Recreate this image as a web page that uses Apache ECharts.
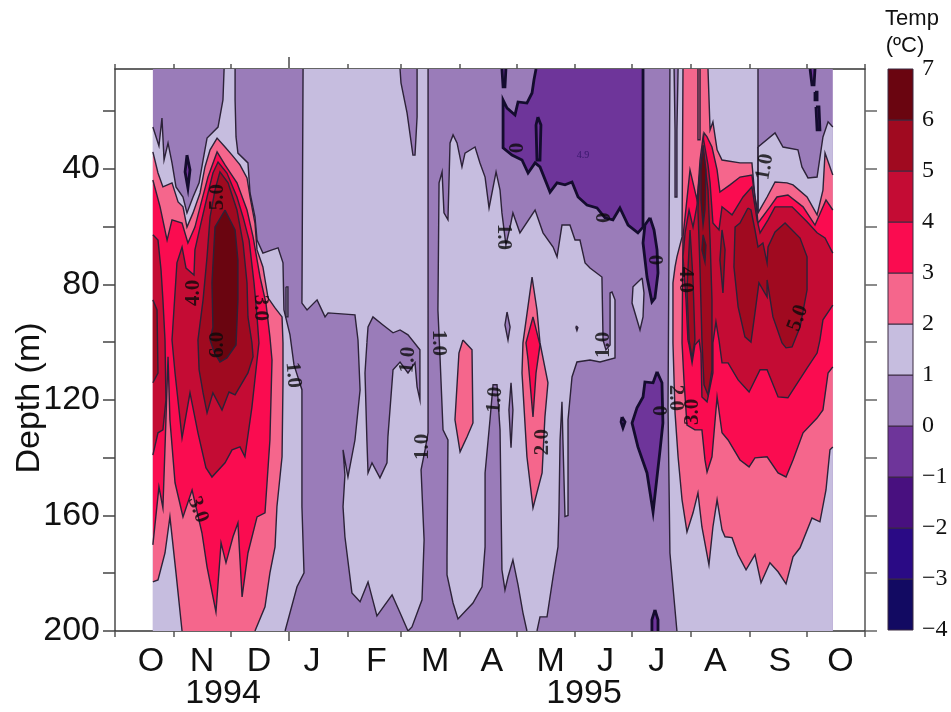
<!DOCTYPE html>
<html>
<head>
<meta charset="UTF-8">
<title>Temp</title>
<script src="https://cdn.jsdelivr.net/npm/echarts@6/dist/echarts.min.js"></script>
<style>html,body{margin:0;padding:0;background:#fff}</style>
</head>
<body>
<div id="graph" style="width:951px;height:712px;"></div>
<script>
// x = days since 1 Oct 1994, y = depth in m. Contours.
var monthStarts = [0,31,61,92,123,151,182,212,243,273,304,335,365,396];
var monthLabelDays = [19,46,76,104,138,169,199,230,259,286,317,351,383];
var monthNames = ['O','N','D','J','F','M','A','M','J','J','A','S','O'];
var depthTicks = [20,40,60,80,100,120,140,160,180,200];
var depthLabels = [40,80,120,160,200];
var scaleLevels = [-4,-3,-2,-1,0,1,2,3,4,5,6];
var firstDay = 20, lastDay = 379, topDepth = 5.5, bottomDepth = 200;

var baseField = [[20,5.5],[379,5.5],[379,200],[20,200]];

var band1Left = [[20,25.6],[23.2,32.1],[24.8,22.5],[25.9,37],[28,31.1],[30.1,38],[32.2,46.3],[35.9,49.8],[38,55.3],[41.2,49.8],[44.4,44.9],[46.5,37],[48.6,29.4],[54.4,25.6],[57,16.2],[57.6,5.5],[63.4,5.5],[63.4,16.2],[63.9,29],[64.9,34.6],[70.2,38],[71.3,48.4],[73.9,56.7],[75,64.7],[78.1,69.2],[82.9,68.1],[86.1,67.4],[88.7,72.6],[89.2,88.9],[92.4,97.5],[94.5,107.9],[98.7,116.5],[98.7,157],[99.8,179.9],[96.1,184.7],[89.8,200],[20,200]];
var band1Sliver = [[90.3,80.9],[91.3,80.9],[91.3,91.3],[90.3,91.3]];
var band1Winter = [[99.3,5.5],[165.3,5.5],[165.3,131.4],[163.7,137.3],[161.6,144.2],[163.2,168.5],[162.1,189.2],[156.8,198.6],[154.7,200],[150.5,193.7],[146.3,187.5],[138.3,194.8],[133.6,183],[129.4,189.9],[125.1,186.8],[121.4,167.4],[120.4,157],[121.4,146],[120.4,137.3],[123,146.7],[126.7,133.9],[129.4,116.6],[128.3,99.3],[126.7,90.6],[112.5,89.9],[110.9,91.3],[106.7,85.4],[101.4,88.9],[98.7,86.5]];
var band1Spring = [[170.5,88.9],[171.1,44.9],[172.7,41.1],[173.7,55.3],[175.8,57.7],[176.9,31.1],[178.5,28.3],[180.6,31.1],[183.2,39.4],[184.8,34.6],[190.1,32.5],[192.7,38],[195.4,42.9],[197.5,53.6],[201.2,41.1],[203.3,47.4],[204.3,55.3],[206.4,66.4],[208.6,60.2],[210.1,55.3],[213.8,62.2],[221.8,54.3],[226,62.2],[231.3,67.1],[233.4,70.5],[236,59.5],[240.2,59.5],[242.9,64.7],[245.5,64.7],[248.2,72.6],[250.8,74.4],[257.1,77.5],[257.7,99.3],[259.2,102.7],[261.4,101],[261.4,83],[262.4,82.7],[264,85.4],[264,105.5],[256.1,106.9],[250.8,106.2],[243.9,106.9],[241.3,112.1],[239.2,126.9],[239.2,160],[237.6,160.4],[236.5,133.9],[236,120.7],[235,133.9],[234.4,159.1],[233.9,170.9],[231.3,181.3],[228.1,195.1],[224.4,195.1],[222.8,200],[217.5,200],[215.4,193.7],[212.8,184],[210.1,175.4],[207.5,181.3],[205.9,185.8],[204.3,178.8],[203.3,130.4],[201.7,114.8],[199.6,114.8],[198,126.9],[195.4,145.3],[195.4,170.9],[193.8,184.7],[189,190.3],[181.1,195.8],[178.5,190.3],[175.3,180.6],[175.3,174.3],[175.8,133.9],[173.2,130.4],[171.6,105.1]];
var band1Patch = [[278.3,77.8],[273.5,80.9],[273,86.5],[277.2,95.8],[278.8,91.3],[279.3,83]];
var band1Right = [[293,5.5],[339.5,5.5],[339.5,32.5],[348.5,27.6],[352.7,32.5],[360.6,33.5],[362.7,39.4],[365.9,43.2],[370.7,42.9],[373.8,29],[376.5,23.8],[379,25.6],[379,200],[296.7,200],[293,173],[292,122.5],[292.5,68.1]];
var band1Seam = [[339.4,32.5],[339.6,32.5],[339.6,55],[339.4,55]];

var gapTop = [[150.5,5.5],[151,10.3],[154.2,20.7],[157.3,35.3],[158.4,35.3],[159.5,22.1],[159.5,5.5]];
var gapMarch = [[133,100.3],[133.6,94.8],[136.2,91.3],[141.5,94.1],[146.8,96.8],[150.5,95.8],[154.7,97.5],[161,102.7],[161,120],[159.5,115.5],[158.4,107.2],[154.7,110.7],[150.5,106.9],[146.8,109.6],[144.1,132.8],[143.6,141.8],[139.9,147],[135.7,141.8],[133.6,145.3],[133,133.9],[132,110.7]];
var gapSpindleA = [[209.1,114.1],[210.1,123.5],[209.1,136.6],[208,123.5]];
var gapSpindleB = [[207,89.6],[208.6,94.8],[207.5,99.3],[205.9,94.1]];
var gapStrip = [[295.2,5.5],[297.3,5.5],[296.7,26.6],[296.7,49.8],[295.7,49.8],[295.7,26.6]];
var gapDot = [[243.6,94.4],[244.4,95],[243.9,96],[243.4,95]];

var coldMain = [[222.3,5.5],[278.8,5.5],[278.8,60.2],[276.1,62.2],[270.9,59.5],[266.6,53.6],[262.9,57.7],[258.7,57],[254.5,53.6],[249.2,52.6],[244.5,49.8],[241.3,44.6],[237.6,45.6],[233.4,44.9],[229.7,48.1],[224.4,39.4],[221.8,38],[218.1,41.5],[214.9,37],[209.6,35.3],[204.9,32.8],[204.9,16.2],[207,19],[211.2,21.4],[212.8,16.9],[217.5,17.3],[220.2,13.8],[221.2,9.3]];
var coldLoop = [[223.3,22.1],[224.9,24.9],[224.4,37],[222.8,37],[222.3,24.9]];
var coldEllipse = [[282.5,57],[284.6,61.2],[286.2,68.1],[286.7,76.1],[285.1,84.7],[283.5,86.1],[280.9,77.5],[278.8,65.7],[279.8,59.5]];
var coldJuly = [[286.2,110.3],[288.8,114.1],[289.3,128],[287.8,137.3],[284.1,158.8],[280.9,145.3],[276.1,136.3],[273,128],[275.6,122.8],[278.8,119],[279.8,113.8],[284.1,114.1]];
var coldDot = [[267.7,125.9],[269.3,127.6],[268.2,129.7],[267.2,127.6]];
var coldBottom = [[285.1,192.7],[286.7,196.1],[286.7,200],[283.5,200],[283.5,196.1]];
var coldDashA = [[204.3,5.5],[206.4,5.5],[205.9,11.7],[204.9,11.7]];
var coldDashB = [[367,5.5],[369.6,5.5],[369.1,11],[368,11]];
var coldDashC = [[369.6,13.5],[370.7,13.5],[370.7,16.2],[369.6,16.2]];
var coldDashD = [[370.1,18.6],[371.7,18.6],[372.2,26.6],[370.7,26.6]];
var coldSpindle = [[38,35.3],[39.6,40.4],[38.5,46.7],[37,41.1]];

var band2Left = [[20,34.2],[22.7,41.5],[25.3,46.3],[30.1,44.9],[33.3,51.5],[35.9,53.2],[38,60.2],[41.2,55.3],[44.9,48.4],[47.5,39.4],[50.2,33.5],[53.9,29.4],[58.1,32.5],[61.8,35.3],[66,38.7],[69.7,43.2],[71.3,49.8],[73.9,58.8],[75,68.1],[78.1,74],[80.8,84.7],[84.5,88.2],[88.2,91.3],[88.7,100.3],[88.7,114.1],[88.2,139.7],[85.5,157],[84.5,170.9],[81.8,179.9],[79.2,191.6],[73.9,200],[35.4,200],[32.2,179.9],[29,160.5],[26.4,173],[22.7,182.3],[20,183]];
var band2Mid = [[183.7,99.3],[188.5,102.7],[189,128],[185.9,132.8],[182.2,138],[179.5,126.9],[181.6,103.8]];
var band2May = [[220.2,77.5],[222.8,88.9],[224.4,100.3],[228.6,114.1],[227,125.9],[225.5,145.3],[220.7,157.4],[217.5,139.7],[214.9,110.7],[215.4,100.3]];
var band2Right = [[299.9,5.5],[299.4,63.6],[296.7,70.5],[295.7,74],[294.6,79.5],[294.6,100.3],[295.7,124.5],[297.3,139.7],[299.4,154.6],[302,165.7],[305.2,159.1],[307.8,152.2],[309.9,164],[313.6,177.1],[315.7,164],[317.9,154.6],[320.5,165],[322.1,167.4],[325.8,167.7],[329,173.6],[333.2,178.8],[337.9,173.6],[341.1,183.3],[345.8,176.4],[350.1,179.5],[354.3,183.7],[358,174.3],[361.7,171.2],[368,160.9],[372.2,162.2],[375.4,151.2],[377.5,137.3],[379,136.3],[379,42.2],[374.9,34.6],[373.8,47.4],[370.7,56],[365.4,49.8],[358,45.6],[354.8,44.9],[348.5,44.6],[344.3,49.8],[339.5,55.3],[337.9,49.8],[336.3,38],[330,38],[320.5,37],[317.9,33.5],[315.7,23.8],[314.2,26.6],[313.1,5.5]];
var band2Sliver = [[307.8,5.5],[308.9,5.5],[308.9,30],[307.8,30]];

var band3Left = [[20,43.9],[23.8,53.2],[27.5,64.7],[30.1,57.7],[35.4,58.8],[38.5,65.7],[42.2,60.2],[45.9,50.8],[49.1,42.9],[53.9,34.2],[58.1,38.7],[64.4,44.9],[69.7,54.3],[72.9,63.6],[76.6,77.5],[79.7,86.5],[81.8,98.2],[82.9,106.2],[81.8,133.9],[79.2,159.1],[75,160.5],[70.2,173],[67.1,188.2],[64.9,162.6],[62.3,167.4],[58.6,176.4],[56,169.5],[53.3,193.4],[48.6,177.8],[45.9,166],[40.7,151.2],[35.9,160.5],[31.7,148.7],[29,126.9],[28,105.1],[26.9,126.9],[25.3,157.4],[23.2,150.1],[20,170.2]];
var band3May = [[220.7,91.3],[224.4,101],[222.3,110.7],[220.7,125.9],[218.1,106.2],[217,100.3]];
var band3Right = [[299.4,100.3],[299.9,63.6],[303.6,40.4],[307.3,50.8],[311,27.6],[312.6,29],[315.2,32.5],[317.9,40.4],[319.4,48.1],[324.7,45.6],[330,42.9],[336.3,42.2],[339,55.3],[339.5,58.8],[345.8,53.2],[349.5,49.8],[355.3,49.1],[363.3,53.2],[369.6,59.5],[375.4,50.8],[379,54.3],[379,108.6],[376.5,110.7],[373.8,123.5],[370.7,126.3],[363.3,131.4],[358,140.8],[354.3,146.7],[350.1,145.3],[344.3,139.7],[337.9,140.1],[334.8,143.2],[330,140.8],[323.7,133.9],[320.5,131.4],[317.9,119],[315.2,139.7],[312.6,145],[311.5,140.8],[309.9,130.4],[306.2,130.4],[302,128.7],[300.4,113.1]];

var band4Left = [[30.1,99.3],[32.7,72.6],[35.4,67.1],[37.5,74.4],[41.7,76.8],[42.2,68.1],[44.9,60.2],[48.6,49.8],[51.7,41.5],[54.4,37.7],[59.1,41.5],[64.4,49.8],[67.6,56.7],[70.8,64.7],[73.4,79.5],[75,91.3],[76,100.3],[75,106.2],[72.3,122.5],[68.6,139.7],[66,136.3],[61.8,137.3],[58.1,141.8],[51.2,146.7],[48,143.5],[43.8,131.4],[39.6,117.6],[35.4,133.2],[31.7,110.7]];
var band4Edge = [[20,62.9],[22.7,64.7],[24.3,75],[25.3,85.4],[26.4,99.3],[26.9,120],[25.3,130.4],[22.7,131.4],[20,139.1]];
var band4Right = [[302.5,99.3],[301.5,85.4],[299.9,70.5],[301,62.2],[303.1,54.3],[305.2,60.2],[307.3,52.6],[308.9,37],[310.5,29],[313.1,38.7],[314.2,44.9],[315.7,58.8],[318.9,61.2],[320.5,53.2],[325.8,56],[331.6,49.8],[336.3,46.3],[339,57.7],[340.6,62.2],[344.8,57.7],[348.5,53.2],[357.5,53.2],[365.4,58.4],[370.7,62.2],[374.9,64],[379,69.2],[379,87.2],[373.8,92.3],[372.2,99.3],[370.7,103.8],[365.4,109],[359,115.5],[355.3,119.3],[350.1,119],[344.3,109.6],[340.6,109.6],[334.8,117.3],[329,113.1],[323.7,107.2],[320.5,107.2],[318.9,99.3],[317.3,93],[315.7,100.3],[315.7,110.7],[312.6,120.7],[309.9,119],[309.4,103.8],[308.4,99.3],[306.2,101],[304.7,107.2],[303.1,101]];

var band5Left = [[43.8,99.3],[46.5,85.4],[48.6,70.5],[50.2,56.7],[52.8,47.4],[55.4,41.1],[59.7,44.9],[64.4,54.3],[67.6,65.7],[69.7,79.5],[70.2,91.3],[72.3,100.3],[72.9,105.1],[70.2,110.7],[63.4,118.3],[60.2,117.3],[56.5,123.5],[51.7,117.6],[48.6,124.5],[46.5,117.6],[44.4,109.6]];
var band5Edge = [[20,85.4],[22.2,88.9],[22.7,110.7],[20,114.1]];
var band5Right = [[334.2,53.6],[330,58.8],[327.4,60.2],[326.8,74],[329,87.8],[332.6,98.2],[335.8,100],[337.9,89.9],[340,79.5],[344.3,84.4],[344.3,78.5],[347.4,91.3],[352.2,100.3],[354.3,102],[357.5,101.7],[361.7,94.8],[365.4,82],[365.4,70.5],[361.7,64],[353.8,58.8],[348.5,61.9],[344.8,67.1],[344.3,72.6],[342.1,65.7],[339.5,67.1],[337.9,61.2],[335.8,54.3]];
var band5Spindle = [[320.5,61.2],[322.1,68.1],[321,83],[319.4,71.6]];
var band5TowerA = [[303.6,61.2],[305.2,78.5],[306.2,99.3],[304.7,105.5],[303.1,99.3],[302,82]];
var band5TowerB = [[310.5,33.5],[313.1,47.4],[314.2,64.7],[315.2,85.4],[315.2,109.6],[313.1,118.3],[311,114.8],[309.9,99.3],[308.9,75],[307.8,54.3],[308.9,40.4]];

var band6Core = [[58.1,54.3],[52.8,60.2],[51.2,79.5],[51.7,94.8],[50.2,99.3],[52.3,103.4],[55.4,106.9],[59.1,105.5],[63.9,101],[64.9,85.4],[64.9,71.6],[63.4,61.2]];
var band6TowerA = [[310.5,31.8],[312,40.4],[311.5,54.3],[310.5,59.5],[309.4,50.8],[309.4,40.4]];
var band6TowerB = [[310.5,62.9],[312,66.4],[311.5,72.3],[309.9,68.1]];

// day, depth, text, rotation
var contourLabels = [
	[53.9,49.8,'5.0',90],[41.7,83,'4.0',90],[54.4,101,'6.0',90],[76.6,88.2,'3.0',-90],
	[94,111.4,'1.0',-85],[43.8,158,'3.0',-70],[171,100.3,'1.0',-90],[154.7,106.2,'1.0',85],
	[162.6,136.3,'1.0',90],[200.6,120,'1.0',85],[225.5,134.6,'2.0',90],[258.2,101,'1.0',90],
	[212.3,32.8,'0',90],[204.9,63.6,'1.0',-90],[258.7,57,'0',90],[286.7,71.6,'0',90],
	[301,78.5,'4.0',-90],[343.2,39.4,'1.0',80],[360.6,91.7,'5.0',70],[288.8,123.8,'0',90],
	[295.7,119.3,'2.0',-90],[305.2,124.2,'3.0',90]
];

var bandColors = {'-4':'#120a62','-3':'#2a0a85','-2':'#48107f','-1':'#6e359a','0':'#9a7cb9','1':'#c6bddf','2':'#f5668c','3':'#fa0c50','4':'#c40c34','5':'#a00a20','6':'#6a0510'};

// paint order, level = lower bound of the band
var layers = [
	[0,baseField],
	[1,band1Left],[1,band1Sliver],[1,band1Winter],[1,band1Spring],[1,band1Patch],[1,band1Right],[1,band1Seam],
	[0,gapTop],[0,gapMarch],[0,gapSpindleA],[0,gapSpindleB],[0,gapStrip],[0,gapDot],
	[-1,coldMain],[-1,coldLoop],[-1,coldEllipse],[-1,coldJuly],[-1,coldDot],[-1,coldBottom],
	[-1,coldDashA],[-1,coldDashB],[-1,coldDashC],[-1,coldDashD],[-1,coldSpindle],
	[2,band2Left],[2,band2Mid],[2,band2May],[2,band2Right],[2,band2Sliver],
	[3,band3Left],[3,band3May],[3,band3Right],
	[4,band4Left],[4,band4Edge],[4,band4Right],
	[5,band5Left],[5,band5Edge],[5,band5Right],[5,band5Spindle],[5,band5TowerA],[5,band5TowerB],
	[6,band6Core],[6,band6TowerA],[6,band6TowerB]
];

function onFrame(a,b){
	if(a[0]<=firstDay+0.2 && b[0]<=firstDay+0.2) return true;
	if(a[0]>=lastDay-0.2 && b[0]>=lastDay-0.2) return true;
	if(a[1]<=topDepth+0.1 && b[1]<=topDepth+0.1) return true;
	if(a[1]>=bottomDepth-0.1 && b[1]>=bottomDepth-0.1) return true;
	return false;
}

function renderLayer(params,api){
	var layer = layers[api.value(0)];
	var level = layer[0], pts = layer[1];
	var children = [{
		type:'polygon',
		shape:{points:pts.map(function(p){return api.coord(p);})},
		style:{fill:bandColors[level],stroke:null}
	}];
	// contour line, left out where the outline only follows the frame
	var cold = level<0;
	var run = [];
	function flush(){
		if(run.length>1){
			children.push({type:'polyline',shape:{points:run},
				style:{fill:null,stroke:cold?'#140c2e':'#2c2238',lineWidth:cold?2.8:1.4}});
		}
		run = [];
	}
	for(var i=0;i<pts.length;i++){
		var a = pts[i], b = pts[(i+1)%pts.length];
		if(onFrame(a,b)){flush();continue;}
		if(!run.length) run.push(api.coord(a));
		run.push(api.coord(b));
	}
	flush();
	return {type:'group',children:children};
}

function renderScale(params,api){
	var low = api.value(0);
	var a = api.coord([0,low+1]), b = api.coord([1,low]);
	return {type:'rect',shape:{x:a[0],y:a[1],width:b[0]-a[0],height:b[1]-a[1]},
		style:{fill:bandColors[low],stroke:'#3a2a40',lineWidth:1}};
}

var tickFont = {fontFamily:'Liberation Sans',fontSize:34,color:'#111'};

var labelData = contourLabels.map(function(l){
	return {value:[l[0],l[1]],label:{show:true,position:'inside',formatter:l[2],rotate:l[3],
		fontFamily:'Liberation Serif',fontWeight:'bold',fontSize:21,color:'#0a0a0a'}};
});
labelData.push({value:[247.1,35.3],label:{show:true,position:'inside',formatter:'4.9',
	fontFamily:'Liberation Serif',fontSize:10,color:'#2a1060'}});

var myChart = echarts.init(document.getElementById('graph'),null,{renderer:'canvas'});
var option = {
	animation:false,
	backgroundColor:'#fff',
	grid:[
		{left:115,right:86,top:69,bottom:81},
		{left:888,width:25,top:69,height:561}
	],
	xAxis:[
		{type:'value',gridIndex:0,position:'bottom',min:0,max:396,splitLine:{show:false},
			axisLine:{onZero:false,lineStyle:{color:'#333',width:1.5}},
			axisTick:{show:true,customValues:monthStarts,length:6,lineStyle:{color:'#555',width:1.5}},
			axisLabel:{show:true,customValues:monthLabelDays,margin:14,
				fontFamily:tickFont.fontFamily,fontSize:tickFont.fontSize,color:tickFont.color,
				formatter:function(v){return monthNames[monthLabelDays.indexOf(v)];}}},
		{type:'value',gridIndex:0,position:'top',min:0,max:396,splitLine:{show:false},
			axisLine:{onZero:false,lineStyle:{color:'#333',width:1.5}},
			axisTick:{show:true,customValues:monthStarts,length:5,lineStyle:{color:'#555',width:1.5}},
			axisLabel:{show:false}},
		{type:'value',gridIndex:0,position:'top',min:0,max:396,splitLine:{show:false},
			axisLine:{show:false},
			axisTick:{show:true,customValues:[92],length:12,lineStyle:{color:'#777',width:2}},
			axisLabel:{show:false}},
		{type:'value',gridIndex:0,position:'bottom',min:0,max:396,splitLine:{show:false},
			axisLine:{show:false},
			axisTick:{show:true,customValues:[92],length:10,lineStyle:{color:'#777',width:2}},
			axisLabel:{show:false}},
		{type:'value',gridIndex:1,min:0,max:1,show:false}
	],
	yAxis:[
		{type:'value',gridIndex:0,position:'left',inverse:true,min:topDepth,max:bottomDepth,splitLine:{show:false},
			axisLine:{onZero:false,lineStyle:{color:'#777',width:2}},
			axisTick:{show:true,customValues:depthTicks,length:12,lineStyle:{color:'#444',width:1.5}},
			axisLabel:{show:true,customValues:depthLabels,margin:15,
				fontFamily:tickFont.fontFamily,fontSize:tickFont.fontSize,color:tickFont.color}},
		{type:'value',gridIndex:0,position:'right',inverse:true,min:topDepth,max:bottomDepth,splitLine:{show:false},
			axisLine:{onZero:false,lineStyle:{color:'#555',width:1.5}},
			axisTick:{show:true,customValues:depthTicks,length:12,lineStyle:{color:'#666',width:1.5}},
			axisLabel:{show:false}},
		{type:'value',gridIndex:1,position:'right',min:-4,max:7,interval:1,splitLine:{show:false},
			axisLine:{show:false},axisTick:{show:false},
			axisLabel:{show:true,margin:9,fontFamily:'Liberation Serif',fontSize:24,color:'#111',
				formatter:function(v){return String(v).replace('-','\u2212');}}}
	],
	series:[
		{type:'custom',xAxisIndex:0,yAxisIndex:0,clip:true,z:1,renderItem:renderLayer,
			data:layers.map(function(l,i){return [i];}),encode:{x:[],y:[]},silent:true},
		{type:'scatter',xAxisIndex:0,yAxisIndex:0,symbolSize:0,z:5,silent:true,data:labelData},
		{type:'custom',xAxisIndex:4,yAxisIndex:2,z:1,renderItem:renderScale,
			data:scaleLevels.map(function(v){return [v];}),encode:{y:0},silent:true}
	],
	graphic:[
		{type:'text',x:30,y:398,rotation:Math.PI/2,style:{text:'Depth (m)',align:'center',verticalAlign:'middle',
			fontFamily:'Liberation Sans',fontSize:34,fill:'#111'}},
		{type:'text',x:223,y:694,style:{text:'1994',align:'center',verticalAlign:'middle',
			fontFamily:'Liberation Sans',fontSize:34,fill:'#111'}},
		{type:'text',x:584,y:694,style:{text:'1995',align:'center',verticalAlign:'middle',
			fontFamily:'Liberation Sans',fontSize:34,fill:'#111'}},
		{type:'text',x:912,y:19,style:{text:'Temp',align:'center',verticalAlign:'middle',
			fontFamily:'Liberation Sans',fontSize:22,fill:'#111'}},
		{type:'text',x:905,y:46,style:{text:'(\u00baC)',align:'center',verticalAlign:'middle',
			fontFamily:'Liberation Sans',fontSize:22,fill:'#111'}}
	]
};
myChart.setOption(option);
</script>
</body>
</html>
